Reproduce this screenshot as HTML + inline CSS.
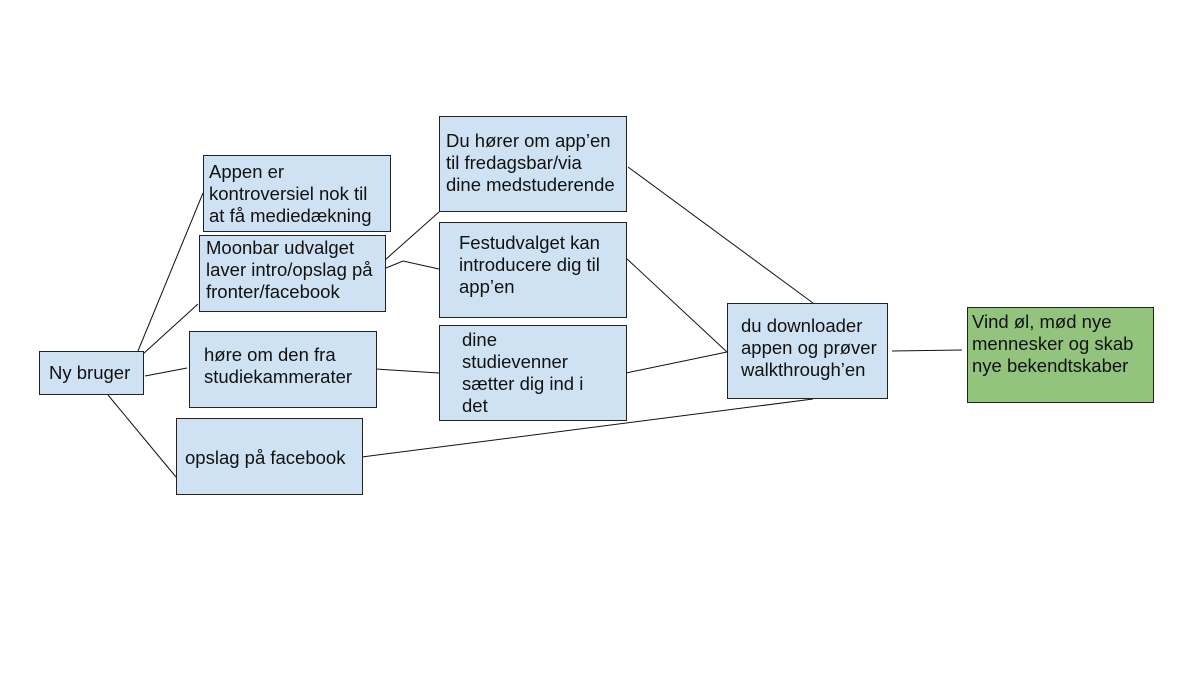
<!DOCTYPE html>
<html><head><meta charset="utf-8"><style>
body{margin:0;width:1189px;height:694px;background:#fff;position:relative;overflow:hidden;font-family:"Liberation Sans",Arial,sans-serif;}
.b{position:absolute;box-sizing:border-box;border:1px solid #222;background:#cfe2f3;font-size:18.5px;line-height:22px;color:#111;white-space:nowrap;}
svg{position:absolute;left:0;top:0}
</style></head><body>
<svg width="1189" height="694"><g stroke="#111" stroke-width="1" fill="none">
<line x1="138" y1="351" x2="203" y2="193"/>
<line x1="143" y1="354" x2="198" y2="304"/>
<line x1="145" y1="376" x2="187" y2="368"/>
<line x1="108" y1="395" x2="176" y2="477"/>
<line x1="385" y1="260" x2="439" y2="212"/>
<polyline points="386,268 403,261 439,269"/>
<line x1="376" y1="369" x2="439" y2="373"/>
<line x1="362" y1="457" x2="813" y2="399"/>
<line x1="626" y1="373" x2="727" y2="352"/>
<line x1="626" y1="258" x2="727" y2="352"/>
<line x1="628" y1="167" x2="813" y2="303"/>
<line x1="892" y1="351" x2="962" y2="350"/>
</g></svg>
<div class="b" style="left:39px;top:351px;width:105px;height:44px;padding:10px 0 0 9px">Ny bruger</div>
<div class="b" style="left:203px;top:155px;width:188px;height:77px;padding:5px 0 0 5px">Appen er<br>kontroversiel nok til<br>at få mediedækning</div>
<div class="b" style="left:199px;top:235px;width:187px;height:77px;padding:1px 0 0 6px">Moonbar udvalget<br>laver intro/opslag på<br>fronter/facebook</div>
<div class="b" style="left:189px;top:331px;width:188px;height:77px;padding:12px 0 0 14px">høre om den fra<br>studiekammerater</div>
<div class="b" style="left:176px;top:418px;width:187px;height:77px;padding:28px 0 0 8px">opslag på facebook</div>
<div class="b" style="left:439px;top:116px;width:188px;height:96px;padding:13px 0 0 6px">Du hører om app’en<br>til fredagsbar/via<br>dine medstuderende</div>
<div class="b" style="left:439px;top:222px;width:188px;height:96px;padding:9px 0 0 19px">Festudvalget kan<br>introducere dig til<br>app’en</div>
<div class="b" style="left:439px;top:325px;width:188px;height:96px;padding:3px 0 0 22px">dine<br>studievenner<br>sætter dig ind i<br>det</div>
<div class="b" style="left:727px;top:303px;width:161px;height:96px;padding:11px 0 0 13px">du downloader<br>appen og prøver<br>walkthrough’en</div>
<div class="b" style="left:967px;top:307px;width:187px;height:96px;padding:3px 0 0 4px;background:#93c47d">Vind øl, mød nye<br>mennesker og skab<br>nye bekendtskaber</div>
</body></html>
